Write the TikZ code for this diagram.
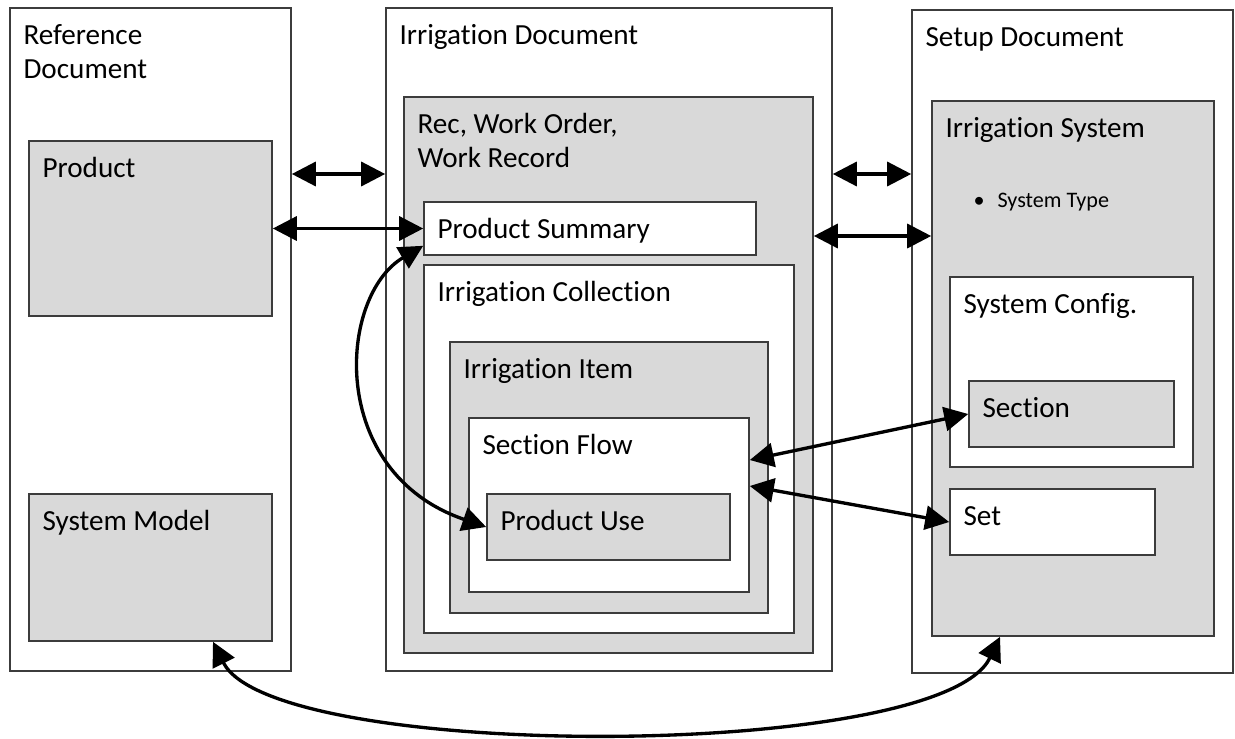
\documentclass[tikz,border=0pt]{standalone}
\usepackage{fontspec}
\setmainfont{Carlito}[Ligatures=NoCommon]
\usetikzlibrary{arrows.meta,fit}
\definecolor{boxgray}{HTML}{D9D9D9}
\definecolor{boxline}{HTML}{3C3C3C}
\newcommand{\mainsize}{\fontsize{16.6}{19.4}\selectfont}
\newcommand{\smallsize}{\fontsize{12.6}{15}\selectfont}
\tikzset{
  whitebox/.style={draw=boxline, line width=0.9pt, fill=white, inner sep=0pt, fit={#1}},
  graybox/.style={whitebox={#1}, fill=boxgray},
  title/.style={
    label={[anchor=base west, inner sep=0pt, xshift=0.28cm, yshift=-0.74cm, font=\mainsize]north west:#1}
  },
  title2/.style={
    label={[anchor=base west, inner sep=0pt, xshift=0.28cm, yshift=-1.42cm, align=left, font=\mainsize]north west:#1}
  },
  link/.style={line width=1.9pt, <->},
  >={Triangle[length=0.48cm,width=0.48cm]}
}

\begin{document}
\begin{tikzpicture}[x=0.02cm, y=-0.02cm]
\useasboundingbox (0,0) rectangle (1235,738);

\node[whitebox={(10,8) (291,671)}, title2={Reference\\Document}] (refdoc) {};
\node[graybox={(29,141) (272,316)}, title=Product] (prod) {};
\node[graybox={(29,494) (272,641)}, title=System Model] (sm) {};

\node[whitebox={(386,8) (832,671)}, title=Irrigation Document] (irrdoc) {};
\node[graybox={(404,97) (813,653)}, title2={Rec, Work Order,\\Work Record}] (rec) {};
\node[whitebox={(424,202) (756,255)}, title=Product Summary] (psum) {};
\node[whitebox={(424,265) (794,633)}, title=Irrigation Collection] (icoll) {};
\node[graybox={(450,342) (768,613)}, title=Irrigation Item] (iitem) {};
\node[whitebox={(469,418) (749,592)}, title=Section Flow] (sflow) {};
\node[graybox={(487,494) (730,560)}, title=Product Use] (puse) {};

\node[whitebox={(912,10) (1233,673)}, title=Setup Document] (setupdoc) {};
\node[graybox={(932,101) (1214,636)}, title=Irrigation System] (irrsys) {};
\node[font=\smallsize, anchor=base west, inner sep=0pt] (systype) at ([xshift=0.84cm, yshift=-2.14cm]irrsys.north west) {\textbullet\hspace{0.26cm}System Type};
\node[whitebox={(950,277) (1193,467)}, title=System Config.] (sconf) {};
\node[graybox={(969,381) (1174,447)}, title=Section] (sect) {};
\node[whitebox={(950,489) (1155,555)}, title=Set] (set) {};

\coordinate (upper) at (0,174);
\coordinate (lower) at (0,236);

\draw[link] (refdoc.east |- upper) -- (irrdoc.west |- upper);
\draw[link] (prod.east) -- (psum.west);
\draw[link] (irrdoc.east |- upper) -- (setupdoc.west |- upper);
\draw[link] (rec.east |- lower) -- (irrsys.west |- lower);
\draw[link] ([yshift=0.2cm]psum.south west) .. controls +(-85,50) and +(-160,-55) .. (puse.west);
\draw[link] ([yshift=0.9cm]sflow.east) -- (sect.west);
\draw[link] ([yshift=0.38cm]sflow.east) -- (set.west);
\draw[link] ([xshift=1.25cm]sm.south) .. controls +(60,120) and +(-60,125) .. ([xshift=-1.46cm]irrsys.south);
\end{tikzpicture}
\end{document}
